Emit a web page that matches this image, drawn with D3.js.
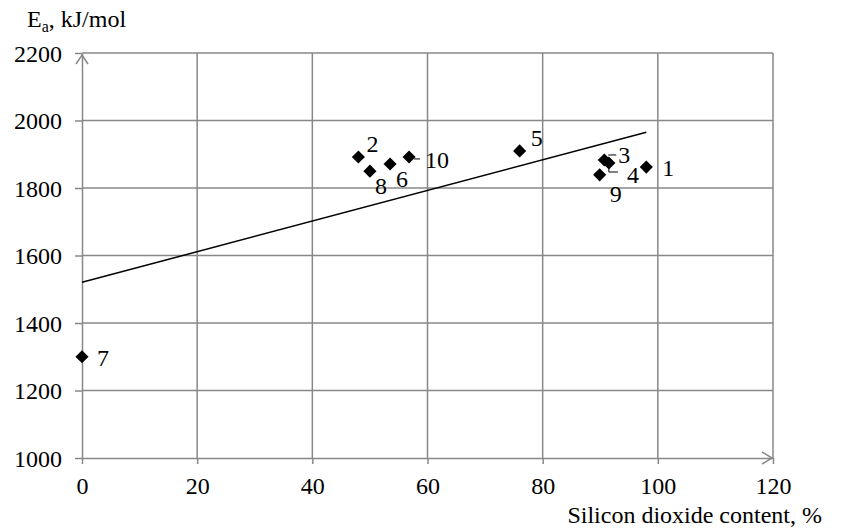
<!DOCTYPE html>
<html>
<head>
<meta charset="utf-8">
<script src="https://cdn.jsdelivr.net/npm/d3@7"></script>
<style>
  @font-face { font-family: "ChartSerif"; src: local("Liberation Serif"), local("LiberationSerif"), local("LiberationSerif-Regular"); }
  body { margin: 0; background: #fff; font-family: "Liberation Serif", serif; }
  #chart svg text { font-family: "Liberation Serif", "ChartSerif", "Times New Roman", serif !important; }
</style>
</head>
<body>
<div id="chart"></div>
<script>
// Data
const labels = ["1", "2", "3", "4", "5", "6", "7", "8", "9", "10"];
const silica = [98, 48, 90.7, 91.5, 76, 53.5, 0, 50, 89.9, 56.8];
const energy = [1862, 1892, 1883, 1874, 1910, 1871, 1300, 1850, 1839, 1892];
const xTicks = [0, 20, 40, 60, 80, 100, 120];
const yTicks = [1000, 1200, 1400, 1600, 1800, 2000, 2200];

// label offsets (px) relative to the marker
const labelOffset = {
  "1": [16, 9], "2": [8, -5], "3": [14, 3], "4": [18, 20], "5": [11, -5],
  "6": [6, 23], "7": [15, 9], "8": [5, 23], "9": [10, 27], "10": [16, 11]
};

const width = 850, height = 530;
const margin = { top: 53, right: 77, bottom: 72, left: 82 };
const serif = "Liberation Serif";
const fontSize = 24;

const svg = d3.select("#chart").append("svg")
  .attr("width", width).attr("height", height);

const x = d3.scaleLinear().domain([0, 120]).range([margin.left, width - margin.right]);
const y = d3.scaleLinear().domain([1000, 2200]).range([height - margin.bottom, margin.top]);

const gridColor = "#888";

// grid
svg.append("g").selectAll("line")
  .data(yTicks.slice(1))
  .join("line")
  .attr("x1", x(0)).attr("x2", x(120))
  .attr("y1", d => y(d)).attr("y2", d => y(d))
  .attr("stroke", gridColor).attr("stroke-width", 1.5);

svg.append("g").selectAll("line")
  .data(xTicks.slice(1))
  .join("line")
  .attr("x1", d => x(d)).attr("x2", d => x(d))
  .attr("y1", y(1000)).attr("y2", y(2200))
  .attr("stroke", gridColor).attr("stroke-width", 1.5);

// axes
const xAxis = svg.append("g")
  .attr("transform", `translate(0,${y(1000)})`)
  .call(d3.axisBottom(x).tickValues(xTicks).tickFormat(d3.format("d"))
    .tickSize(6).tickPadding(13).tickSizeOuter(0));
const yAxis = svg.append("g")
  .attr("transform", `translate(${x(0)},0)`)
  .call(d3.axisLeft(y).tickValues(yTicks).tickFormat(d3.format("d"))
    .tickSize(7).tickPadding(13).tickSizeOuter(0));

[xAxis, yAxis].forEach(g => {
  g.attr("font-family", null).attr("font-size", fontSize);
  g.selectAll("line, path").attr("stroke", gridColor).attr("stroke-width", 1.5);
  g.selectAll("text").attr("fill", "#000").style("font-family", serif).attr("font-size", fontSize);
});
yAxis.selectAll("text").attr("dy", "0.34em");

// arrow heads
svg.append("path")
  .attr("d", `M${x(0) - 6},${y(2200) + 11}L${x(0)},${y(2200) + 2}L${x(0) + 6},${y(2200) + 11}`)
  .attr("fill", "none").attr("stroke", gridColor).attr("stroke-width", 1.5);
svg.append("path")
  .attr("d", `M${x(120) - 11},${y(1000) - 6}L${x(120) - 1},${y(1000)}L${x(120) - 11},${y(1000) + 6}`)
  .attr("fill", "none").attr("stroke", gridColor).attr("stroke-width", 1.5);

// linear trend (least squares)
const mx = d3.mean(silica), my = d3.mean(energy);
const slope = d3.sum(silica, (v, i) => (v - mx) * (energy[i] - my)) /
  d3.sum(silica, v => (v - mx) * (v - mx));
const intercept = my - slope * mx;
const xr = [0, d3.max(silica)];
svg.append("line")
  .attr("x1", x(xr[0])).attr("y1", y(intercept + slope * xr[0]))
  .attr("x2", x(xr[1])).attr("y2", y(intercept + slope * xr[1]))
  .attr("stroke", "#000").attr("stroke-width", 1.5);

// points
const pts = labels.map((l, i) => ({ label: l, sx: silica[i], ea: energy[i] }));

// leader lines for crowded labels
svg.append("path")
  .attr("d", `M${x(90.7) + 4},${y(1883) - 5}h8`)
  .attr("stroke", "#000").attr("stroke-width", 1).attr("fill", "none");
svg.append("path")
  .attr("d", `M${x(91.5)},${y(1874) + 3}v6h9`)
  .attr("stroke", "#000").attr("stroke-width", 1).attr("fill", "none");
svg.append("path")
  .attr("d", `M${x(56.8) + 5},${y(1892) + 2}h6`)
  .attr("stroke", "#000").attr("stroke-width", 1).attr("fill", "none");

svg.append("g").selectAll("path")
  .data(pts)
  .join("path")
  .attr("transform", d => `translate(${x(d.sx)},${y(d.ea)})`)
  .attr("d", d3.symbol(d3.symbolDiamond2, 110))
  .attr("fill", "#000");

svg.append("g").selectAll("text")
  .data(pts)
  .join("text")
  .attr("x", d => x(d.sx) + labelOffset[d.label][0])
  .attr("y", d => y(d.ea) + labelOffset[d.label][1])
  .style("font-family", serif)
  .attr("font-size", fontSize)
  .text(d => d.label);

// axis titles
const yt = svg.append("text").attr("x", 27).attr("y", 27)
  .style("font-family", serif).attr("font-size", fontSize);
yt.append("tspan").text("E");
yt.append("tspan").attr("dy", 5).attr("font-size", 16).text("a");
yt.append("tspan").attr("dy", -5).text(", kJ/mol");

svg.append("text")
  .attr("x", 822).attr("y", 523)
  .attr("text-anchor", "end")
  .style("font-family", serif)
  .attr("font-size", fontSize)
  .text("Silicon dioxide content, %");
</script>
</body>
</html>
